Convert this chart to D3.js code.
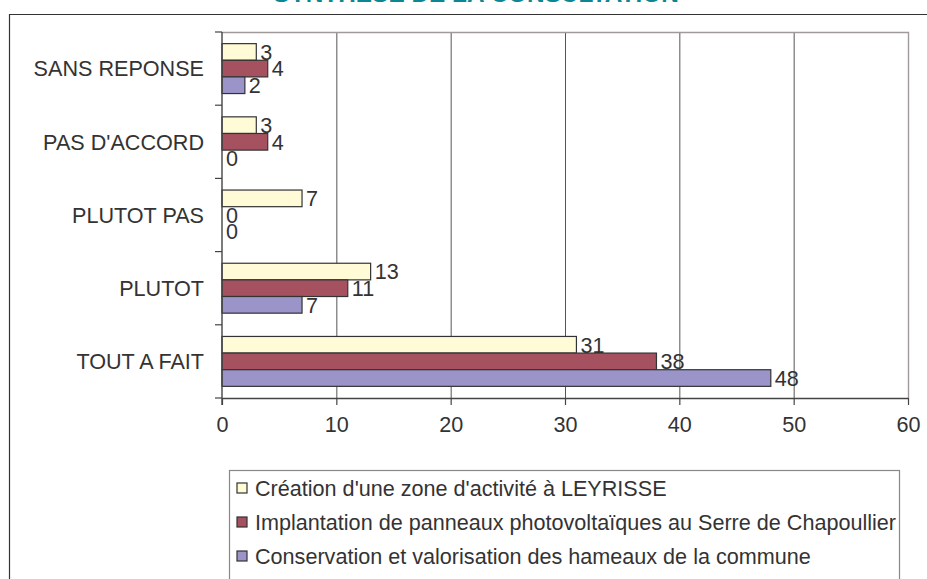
<!DOCTYPE html>
<html>
<head>
<meta charset="utf-8">
<script src="https://cdn.jsdelivr.net/npm/d3@7"></script>
<style>
  html, body { margin: 0; padding: 0; background: #fff; }
  svg { display: block; font-family: "Liberation Sans", Arial, sans-serif; }
</style>
</head>
<body>
<svg id="chart" width="927" height="579"></svg>
<script>
const title = "SYNTHESE DE LA CONSULTATION";
const categories = ["SANS REPONSE", "PAS D'ACCORD", "PLUTOT PAS", "PLUTOT", "TOUT A FAIT"];
const seriesNames = [
  "Création d'une zone d'activité à LEYRISSE",
  "Implantation de panneaux photovoltaïques au Serre de Chapoullier",
  "Conservation et valorisation des hameaux de la commune"
];
const creationValues = [3, 3, 7, 13, 31];
const implantationValues = [4, 4, 0, 11, 38];
const conservationValues = [2, 0, 0, 7, 48];
const xTicks = [0, 10, 20, 30, 40, 50, 60];
const seriesColors = ["#FFFBD6", "#A5515F", "#9B94C9"];

const seriesValues = [creationValues, implantationValues, conservationValues];

const svg = d3.select("#chart");
const textColor = "#333";
const fs = 21.6;

// outer frame (left + top)
svg.append("path")
  .attr("d", "M9.5,579 V14.5 H927")
  .attr("fill", "none").attr("stroke", "#333").attr("stroke-width", 1.2);

// title (clipped at top)
svg.append("text")
  .attr("x", 476).attr("y", 2)
  .attr("text-anchor", "middle")
  .attr("font-weight", "bold")
  .attr("font-size", 24.4)
  .attr("fill", "#0b8793")
  .text(title);

const pLeft = 222, pRight = 908, pTop = 32, pBottom = 398;
const x = d3.scaleLinear().domain([0, 60]).range([pLeft, pRight]);
const y = d3.scaleBand().domain(categories).range([pTop, pBottom]).padding(0);
const yInner = d3.scaleBand().domain(d3.range(3)).range([0, y.bandwidth()]).paddingInner(0).paddingOuter(0.7);

// gridlines
svg.append("g").selectAll("line")
  .data(xTicks.filter(t => t > 0 && t < 60))
  .join("line")
  .attr("x1", d => x(d) + 0.5).attr("x2", d => x(d) + 0.5)
  .attr("y1", pTop).attr("y2", pBottom)
  .attr("stroke", "#555").attr("stroke-width", 1);

// plot top & right border
svg.append("path")
  .attr("d", `M${pLeft},${pTop + 0.5} H${pRight + 0.5} V${pBottom}`)
  .attr("fill", "none").attr("stroke", "#a09a9a").attr("stroke-width", 1.4);

// bars
categories.forEach((cat, ci) => {
  seriesValues.forEach((vals, si) => {
    const v = vals[ci];
    const by = y(cat) + yInner(si);
    const bh = yInner.bandwidth();
    if (v > 0) {
      svg.append("rect")
        .attr("x", x(0)).attr("y", by)
        .attr("width", x(v) - x(0)).attr("height", bh)
        .attr("fill", seriesColors[si])
        .attr("stroke", "#333").attr("stroke-width", 1.2);
    }
    svg.append("text")
      .attr("x", x(v) + 4).attr("y", by + bh / 2)
      .attr("dy", "0.36em")
      .attr("font-size", fs).attr("fill", textColor)
      .text(v);
  });
});

// x axis
const xAxis = d3.axisBottom(x).tickValues(xTicks).tickSize(7).tickPadding(12).tickSizeOuter(0);
const gx = svg.append("g").attr("transform", `translate(0,${pBottom})`).call(xAxis);
gx.select(".domain").attr("stroke", "#444").attr("stroke-width", 1.4);
gx.selectAll(".tick line").attr("stroke", "#444").attr("stroke-width", 1.2);
gx.selectAll(".tick text").attr("font-size", fs).attr("fill", textColor)
  .attr("font-family", "Liberation Sans, Arial, sans-serif");

// y axis: ticks at band boundaries
svg.append("line")
  .attr("x1", pLeft).attr("x2", pLeft).attr("y1", pTop).attr("y2", pBottom + 7)
  .attr("stroke", "#444").attr("stroke-width", 1.4);
const boundaries = categories.map(c => y(c)).concat([pBottom]);
svg.append("g").selectAll("line").data(boundaries).join("line")
  .attr("x1", pLeft - 7).attr("x2", pLeft)
  .attr("y1", d => d).attr("y2", d => d)
  .attr("stroke", "#444").attr("stroke-width", 1.2);
svg.append("g").selectAll("text").data(categories).join("text")
  .attr("x", 204).attr("y", d => y(d) + y.bandwidth() / 2)
  .attr("dy", "0.36em")
  .attr("text-anchor", "end")
  .attr("font-size", fs).attr("fill", textColor)
  .text(d => d);

// legend
const lg = svg.append("g");
lg.append("rect")
  .attr("x", 229.5).attr("y", 470.5).attr("width", 670).attr("height", 120)
  .attr("fill", "#fff").attr("stroke", "#888").attr("stroke-width", 1.2);
seriesNames.forEach((name, i) => {
  const cy = 488 + i * 34;
  lg.append("rect")
    .attr("x", 237).attr("y", cy - 5).attr("width", 10).attr("height", 10)
    .attr("fill", seriesColors[i]).attr("stroke", "#333").attr("stroke-width", 1.2);
  lg.append("text")
    .attr("x", 255).attr("y", cy).attr("dy", "0.36em")
    .attr("font-size", fs).attr("fill", textColor)
    .text(name);
});
</script>
</body>
</html>
